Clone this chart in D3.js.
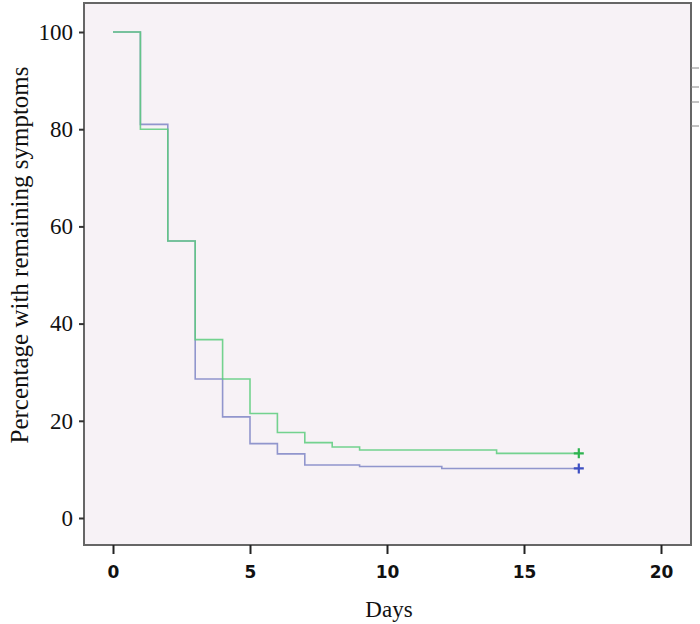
<!DOCTYPE html>
<html>
<head>
<meta charset="utf-8">
<title>Kaplan-Meier: remaining symptoms</title>
<script src="https://cdn.jsdelivr.net/npm/d3@7"></script>
<style>
  body { margin: 0; background: #fff; }
  .ytick text { font-family: "Liberation Serif", "Times New Roman", serif; font-size: 23px; fill: #111; }
  .xtick text { font-family: "DejaVu Sans", Verdana, sans-serif; font-size: 17px; font-weight: bold; fill: #111; }
  .lbl { font-family: "Liberation Serif", "Times New Roman", serif; fill: #111; }
</style>
</head>
<body>
<svg id="chart" width="700" height="624"></svg>
<script>
// step times (days) and survival % for both groups
var greenDays = [0, 1, 2, 3, 4, 5, 6, 7, 8, 9, 14, 17];
var greenPct  = [100, 80, 57, 36.7, 28.6, 21.5, 17.6, 15.5, 14.6, 14.0, 13.3, 13.3];
var blueDays  = [0, 1, 2, 3, 4, 5, 6, 7, 9, 12, 17];
var bluePct   = [100, 81, 57, 28.6, 20.8, 15.3, 13.2, 10.9, 10.6, 10.2, 10.2];
var xTicks = [0, 5, 10, 15, 20];
var yTicks = [0, 20, 40, 60, 80, 100];

var svg = d3.select("#chart");
var frame = {left: 84, top: 3, right: 691, bottom: 545};

var x = d3.scaleLinear().domain([0, 20]).range([113, 661]);
var y = d3.scaleLinear().domain([0, 100]).range([518, 32]);

// plot background + frame
svg.append("rect")
  .attr("x", frame.left).attr("y", frame.top)
  .attr("width", frame.right - frame.left).attr("height", frame.bottom - frame.top)
  .attr("fill", "#f7f2f6")
  .attr("stroke", "#666").attr("stroke-width", 2);

// leftover legend ticks on the right edge
[68, 87, 102, 126].forEach(function (yy) {
  svg.append("line").attr("x1", frame.right).attr("x2", 699)
    .attr("y1", yy).attr("y2", yy)
    .attr("stroke", "#888").attr("stroke-width", 1);
});

// y axis
var yAxis = svg.append("g").attr("class", "ytick")
  .attr("transform", "translate(" + frame.left + ",0)")
  .call(d3.axisLeft(y).tickValues(yTicks).tickSize(5).tickPadding(6));
yAxis.select(".domain").remove();
yAxis.selectAll("line").attr("stroke", "#333").attr("stroke-width", 2);

// x axis
var xAxis = svg.append("g").attr("class", "xtick")
  .attr("transform", "translate(0," + frame.bottom + ")")
  .call(d3.axisBottom(x).tickValues(xTicks).tickSize(9).tickPadding(12));
xAxis.select(".domain").remove();
xAxis.selectAll("line").attr("stroke", "#222").attr("stroke-width", 2);

// axis titles
svg.append("text").attr("class", "lbl")
  .attr("transform", "translate(28,255) rotate(-90)")
  .attr("text-anchor", "middle").attr("font-size", 25)
  .text("Percentage with remaining symptoms");
svg.append("text").attr("class", "lbl")
  .attr("x", 389).attr("y", 617)
  .attr("text-anchor", "middle").attr("font-size", 23)
  .text("Days");

// step curves
var line = d3.line()
  .x(function (d) { return x(d[0]); })
  .y(function (d) { return y(d[1]); })
  .curve(d3.curveStepAfter);

function curve(days, pct, color, mark) {
  var pts = days.map(function (d, i) { return [d, pct[i]]; });
  svg.append("path").datum(pts)
    .attr("d", line)
    .attr("fill", "none")
    .attr("stroke", color).attr("stroke-width", 1.6)
    .attr("stroke-opacity", 0.85);
  var last = pts[pts.length - 1];
  var cx = x(last[0]), cy = y(last[1]);
  svg.append("path")
    .attr("d", "M" + (cx - 5) + "," + cy + "H" + (cx + 5) + "M" + cx + "," + (cy - 5) + "V" + (cy + 5))
    .attr("stroke", mark).attr("stroke-width", 2.2);
}

curve(blueDays, bluePct, "#7f86c6", "#3e4fc2");
curve(greenDays, greenPct, "#5ccc7c", "#2db34f");
</script>
</body>
</html>
